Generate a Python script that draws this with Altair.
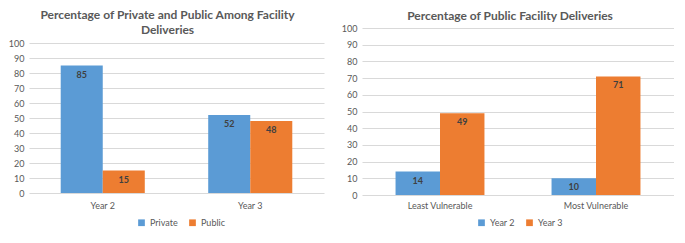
import altair as alt
import pandas as pd

# ---- data ----
left_categories = ["Year 2", "Year 3"]
left_series = ["Private", "Public"]
left_private = [85, 52]
left_public = [15, 48]

right_categories = ["Least Vulnerable", "Most Vulnerable"]
right_series = ["Year 2", "Year 3"]
right_year2 = [14, 10]
right_year3 = [49, 71]

y_ticks = list(range(0, 101, 10))
colors = ["#5B9BD5", "#ED7D31"]

FONT = "Lato"
GREY = "#595959"
DARK = "#404040"


def make_frame(cats, series, values):
    rows = []
    for s, vals in zip(series, values):
        for c, v in zip(cats, vals):
            rows.append({"cat": c, "series": s, "value": v})
    return pd.DataFrame(rows)


def panel(df, cats, series, width, height, yrange, title, t_offset, t_dx, t_lh, lx, ly):
    x = alt.X("cat:N", sort=cats, title=None,
              scale=alt.Scale(paddingInner=0.43, paddingOuter=0.215),
              axis=alt.Axis(labelAngle=0, domain=False, ticks=False, labelFont=FONT,
                            labelFontSize=9, labelColor=GREY, labelPadding=6))
    y = alt.Y("value:Q", title=None, stack=None,
              scale=alt.Scale(domain=[0, 100], range=yrange, nice=False),
              axis=alt.Axis(values=y_ticks, domain=False, ticks=False, gridColor="#D9D9D9",
                            labelFont=FONT, labelFontSize=9, labelColor=GREY, labelPadding=5))
    xo = alt.XOffset("series:N", sort=series, scale=alt.Scale(paddingInner=0, paddingOuter=0))
    color = alt.Color("series:N", sort=series,
                      scale=alt.Scale(domain=series, range=colors),
                      legend=alt.Legend(orient="none", legendX=lx, legendY=ly, direction="horizontal",
                                        title=None, symbolType="square", symbolSize=45,
                                        symbolStrokeWidth=0, labelFont=FONT, labelFontSize=9,
                                        labelColor=GREY, columnPadding=10, symbolOffset=0))
    base = alt.Chart(df)
    bars = base.mark_bar().encode(x=x, y=y, xOffset=xo, color=color)
    labels = base.mark_text(font=FONT, fontSize=9, fontWeight="bold", color=DARK,
                            baseline="middle", dy=9).encode(
        x=x, y=y, xOffset=xo, text=alt.Text("value:Q"))
    return alt.layer(bars, labels).properties(
        width=width, height=height,
        title=alt.TitleParams(text=title, font=FONT, fontSize=12, fontWeight="bold", color=GREY,
                              anchor="middle", frame="group", offset=t_offset, dx=t_dx,
                              lineHeight=t_lh))


H = 167
left = panel(make_frame(left_categories, left_series, [left_private, left_public]),
             left_categories, left_series, 295, H, [165, 15],
             ["Percentage of Private and Public Among Facility", "Deliveries"], -8.5, -9, 15, 108, 190)
right = panel(make_frame(right_categories, right_series, [right_year2, right_year3]),
              right_categories, right_series, 312, H, [H, 0],
              "Percentage of Public Facility Deliveries", 1, -8, 12, 115, 190)

chart = alt.hconcat(left, right, spacing=38, bounds="flush").resolve_scale(
    color="independent", x="independent", y="independent", xOffset="independent"
).properties(padding=0, background="white").configure_view(stroke=None)

chart.save("out.html", embed_options={"renderer": "svg", "actions": False})
